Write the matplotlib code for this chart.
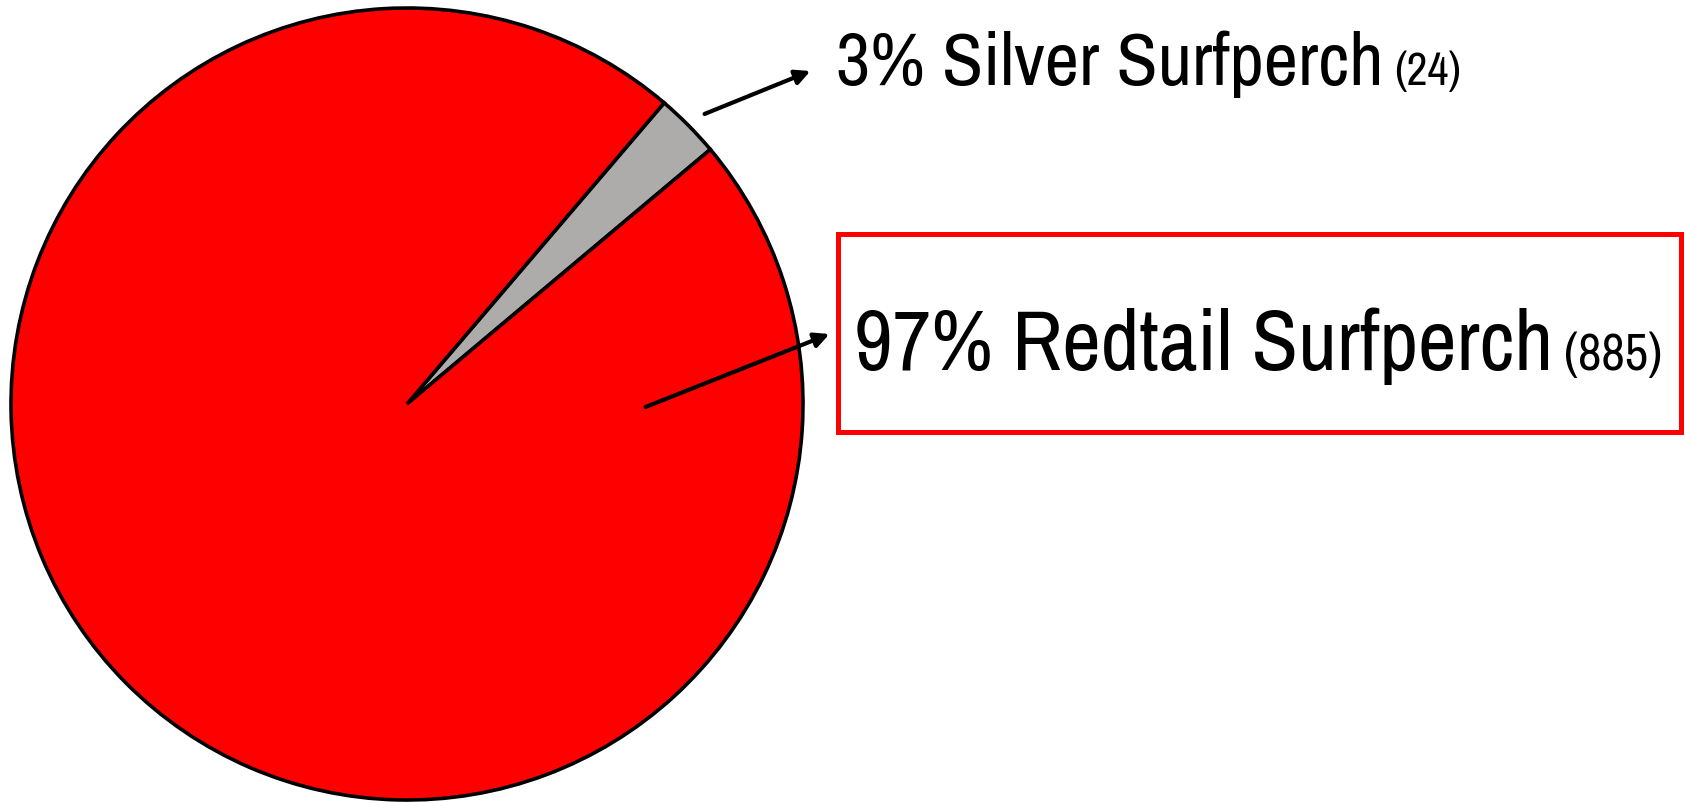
import matplotlib.pyplot as plt
from matplotlib import font_manager
from matplotlib.patches import Rectangle

# Dados
species = ['Silver Surfperch', 'Redtail Surfperch']
counts = [24, 885]
percents = [3, 97]
colors = ['#AEACAB', '#FF0000']

names = {f.name for f in font_manager.fontManager.ttflist}
candidates = ['Liberation Sans Narrow', 'Arial Narrow', 'Archivo Narrow',
              'Roboto Condensed', 'PT Sans Narrow', 'Liberation Sans']
font = next(c for c in candidates if c in names)
plt.rcParams['font.family'] = [font, 'DejaVu Sans']

W, H = 1685, 804
fig = plt.figure(figsize=(W / 100, H / 100), dpi=100)
ax = fig.add_axes([0, 0, 1, 1])

ax.pie(counts, colors=colors, startangle=40, counterclock=True,
       center=(407, 399), radius=396,
       wedgeprops=dict(edgecolor='black', linewidth=2.6))
ax.set_xlim(0, W)
ax.set_ylim(0, H)
ax.set_aspect('equal')
ax.axis('off')

# caixa do rótulo maior
ax.add_patch(Rectangle((838, 371), 843, 198, fill=False, edgecolor='#FF0000', linewidth=3.6))

# rótulos: texto principal + contagem menor
labels = [
    (f'{percents[0]}% {species[0]}', f'({counts[0]})', 836, 719, 54, 33),
    (f'{percents[1]}% {species[1]}', f'({counts[1]})', 854, 434, 61, 37),
]
fig.canvas.draw()
r = fig.canvas.get_renderer()
for main, small, x, y, fs, fs2 in labels:
    t = ax.text(x, y, main, fontsize=fs, va='baseline', ha='left')
    bb = t.get_window_extent(renderer=r)
    x2 = ax.transData.inverted().transform((bb.x1, bb.y0))[0] + 11
    ax.text(x2, y, small, fontsize=fs2, va='baseline', ha='left')

# setas
ax.annotate('', xy=(813, 733), xytext=(702, 688),
            arrowprops=dict(arrowstyle='-|>', color='black', lw=3, mutation_scale=22))
ax.annotate('', xy=(832, 470), xytext=(643, 395),
            arrowprops=dict(arrowstyle='-|>', color='black', lw=3, mutation_scale=22))

fig.savefig('out.png', dpi=100)
